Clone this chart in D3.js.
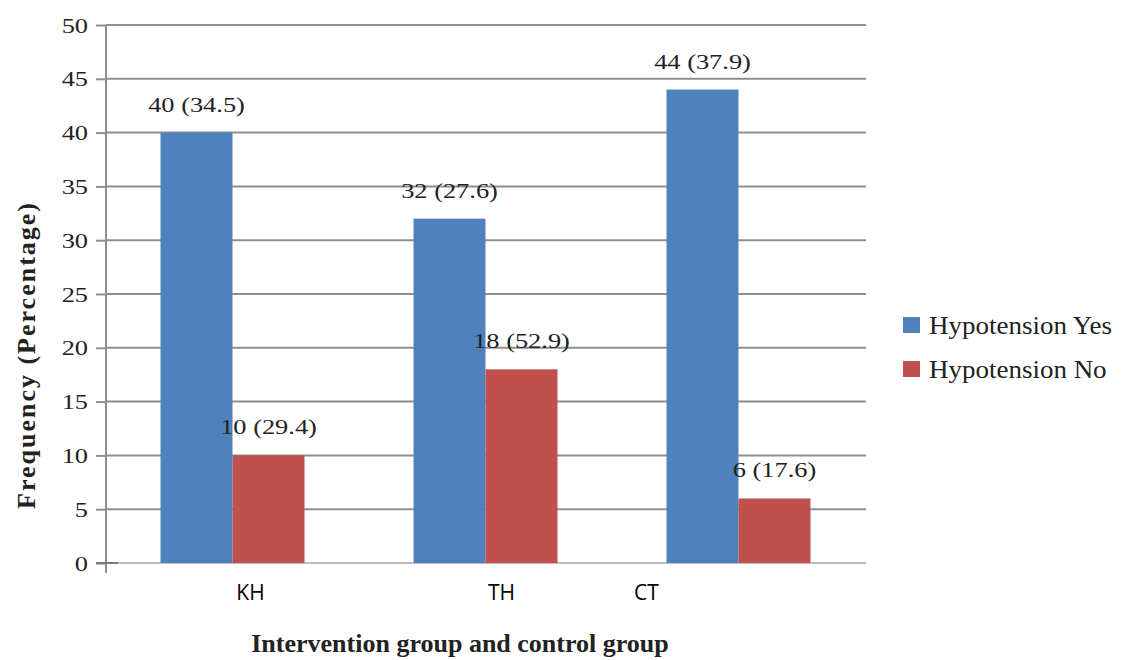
<!DOCTYPE html>
<html>
<head>
<meta charset="utf-8">
<script src="https://cdn.jsdelivr.net/npm/d3@7"></script>
<style>
  html, body { margin: 0; padding: 0; background: #fff; }
  svg { display: block; }
</style>
</head>
<body>
<svg id="chart" width="1121" height="660"></svg>
<script>
// ---- data ----
const categories = ["KH", "TH", "CT"];
const seriesNames = ["Hypotension Yes", "Hypotension No"];
const yesValues = [40, 32, 44];
const noValues = [10, 18, 6];
const yesLabels = ["40 (34.5)", "32 (27.6)", "44 (37.9)"];
const noLabels = ["10 (29.4)", "18 (52.9)", "6 (17.6)"];
const yTicks = [0, 5, 10, 15, 20, 25, 30, 35, 40, 45, 50];
const colors = ["#4F81BD", "#C0504D"];

// ---- layout ----
const svg = d3.select("#chart");
const plotL = 106, plotR = 865, plotT = 25, plotB = 563;
const serif = "'Liberation Serif', 'Times New Roman', serif";
const stretch = 1.2;

const x = d3.scaleBand().domain(categories).range([plotL, plotR]).paddingInner(0).paddingOuter(0);
const groupW = 144;
const xs = d3.scaleBand().domain(seriesNames)
  .range([(x.bandwidth() - groupW) / 2, (x.bandwidth() + groupW) / 2]).padding(0);
const y = d3.scaleLinear().domain([0, 50]).range([plotB, plotT]);

// gridlines
svg.append("g").selectAll("line").data(yTicks.filter(d => d > 0)).join("line")
  .attr("x1", plotL).attr("x2", plotR + 1)
  .attr("y1", d => y(d)).attr("y2", d => y(d))
  .attr("stroke", "#8e8e8e").attr("stroke-width", 2);

// y axis
const yAxis = svg.append("g").attr("transform", `translate(${plotL},0)`)
  .call(d3.axisLeft(y).tickValues(yTicks).tickSize(10).tickPadding(5));
yAxis.select(".domain").remove();
yAxis.selectAll(".tick line").attr("stroke", "#8e8e8e").attr("stroke-width", 2);
yAxis.selectAll(".tick text").attr("font-family", serif).attr("font-size", 22).attr("fill", "#222")
  .attr("transform", `scale(${stretch},1)`);
svg.append("line").attr("x1", plotL).attr("x2", plotL).attr("y1", plotT).attr("y2", plotB + 10)
  .attr("stroke", "#8e8e8e").attr("stroke-width", 2);
// zero line
svg.append("line").attr("x1", plotL).attr("x2", plotR + 1).attr("y1", y(0)).attr("y2", y(0))
  .attr("stroke", "#a8a8a8").attr("stroke-width", 1.5);
svg.append("line").attr("x1", plotL - 10).attr("x2", plotL + 12).attr("y1", y(0)).attr("y2", y(0))
  .attr("stroke", "#7a7a7a").attr("stroke-width", 2);

// bars
const rows = categories.map((c, i) => ({
  cat: c,
  vals: [
    { s: seriesNames[0], v: yesValues[i], label: yesLabels[i], color: colors[0] },
    { s: seriesNames[1], v: noValues[i], label: noLabels[i], color: colors[1] }
  ]
}));
const groups = svg.append("g").selectAll("g").data(rows).join("g")
  .attr("transform", d => `translate(${x(d.cat)},0)`);
groups.selectAll("rect").data(d => d.vals).join("rect")
  .attr("x", d => xs(d.s)).attr("width", xs.bandwidth())
  .attr("y", d => y(d.v)).attr("height", d => y(0) - y(d.v))
  .attr("fill", d => d.color);
groups.selectAll("text").data(d => d.vals).join("text")
  .attr("transform", d => `translate(${xs(d.s) + xs.bandwidth() / 2},${y(d.v) - 21}) scale(${stretch},1)`)
  .attr("text-anchor", "middle")
  .attr("font-family", serif).attr("font-size", 22).attr("fill", "#222")
  .text(d => d.label);

// category labels (overlaid sans labels, offset as in the picture)
const catShift = { KH: 18, TH: 16, CT: -92 };
svg.append("g").selectAll("text").data(categories).join("text")
  .attr("x", d => x(d) + x.bandwidth() / 2 + catShift[d])
  .attr("y", 600)
  .attr("text-anchor", "middle")
  .attr("font-family", "'Open Sans', 'Liberation Sans', sans-serif").attr("font-size", 21)
  .attr("fill", "#000")
  .text(d => d);

// axis titles
svg.append("text").attr("x", 460).attr("y", 652).attr("text-anchor", "middle")
  .attr("font-family", serif).attr("font-weight", "bold").attr("font-size", 26).attr("fill", "#222")
  .text("Intervention group and control group");
svg.append("text").attr("transform", "translate(35,355) rotate(-90)").attr("text-anchor", "middle")
  .attr("font-family", serif).attr("font-weight", "bold").attr("font-size", 26)
  .attr("letter-spacing", 2).attr("fill", "#222")
  .text("Frequency (Percentage)");

// legend
const legend = svg.append("g").selectAll("g").data(seriesNames).join("g")
  .attr("transform", (d, i) => `translate(903,${317 + i * 44})`);
legend.append("rect").attr("width", 17).attr("height", 16).attr("fill", (d, i) => colors[i]);
legend.append("text").attr("transform", "translate(26,17) scale(1.08,1)")
  .attr("font-family", serif).attr("font-size", 25).attr("fill", "#222")
  .text(d => d);
</script>
</body>
</html>
